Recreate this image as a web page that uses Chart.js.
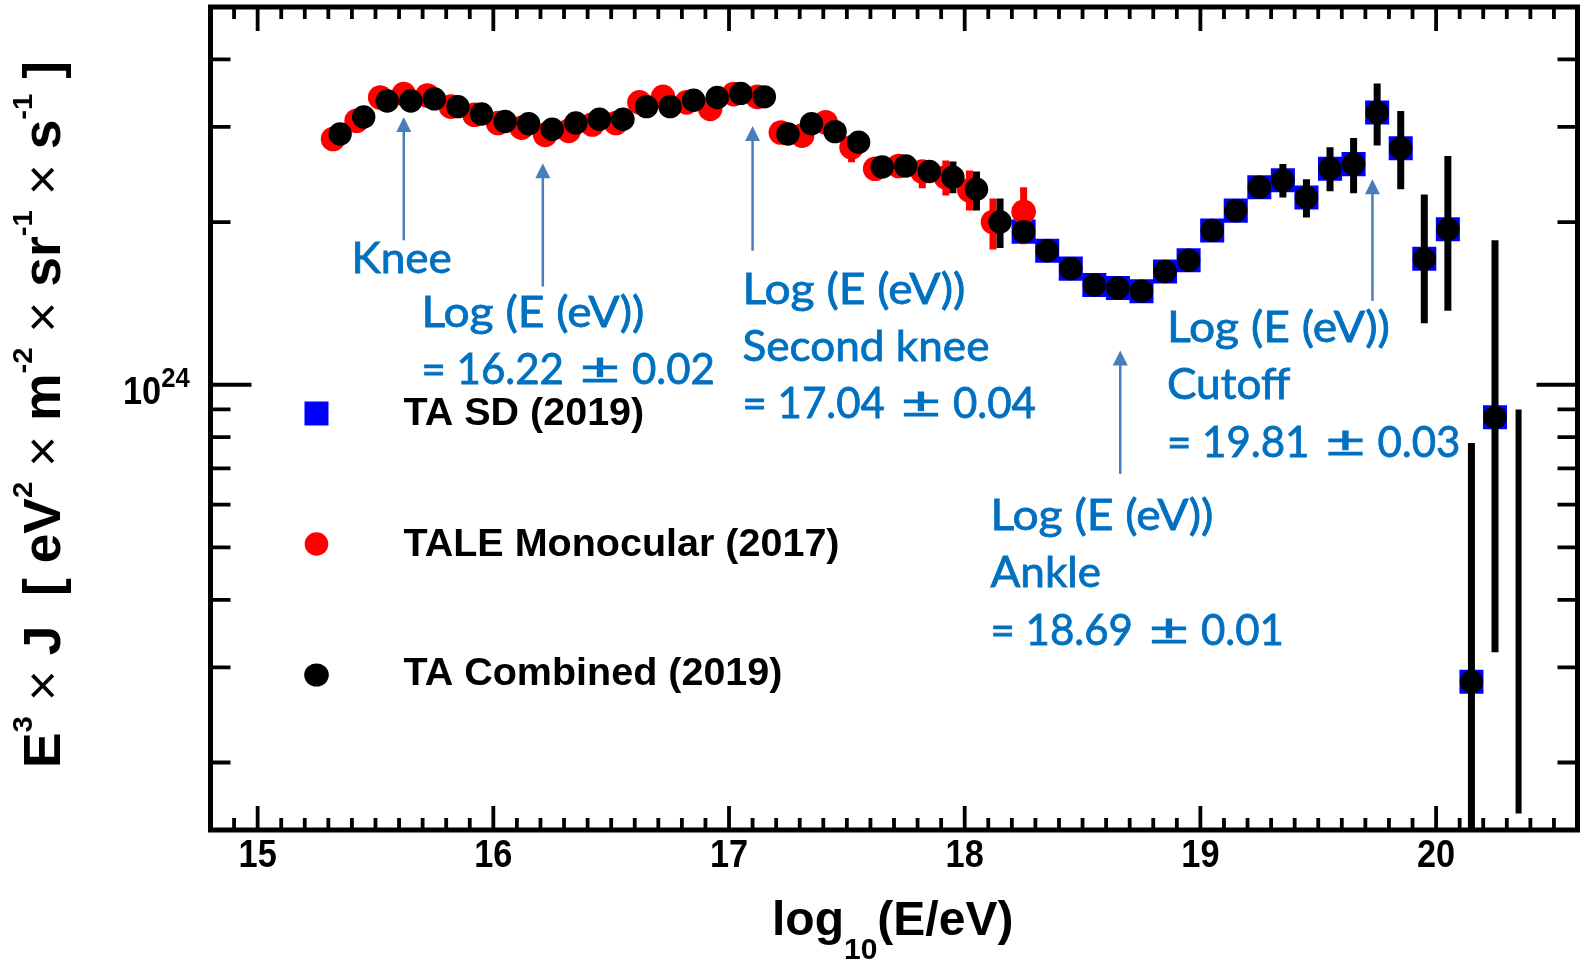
<!DOCTYPE html>
<html>
<head>
<meta charset="utf-8">
<title>TA cosmic-ray energy spectrum</title>
<script src="https://cdn.jsdelivr.net/npm/chart.js@4.4.1/dist/chart.umd.min.js"></script>
<style>
  html, body { margin: 0; padding: 0; background: #fff; }
  canvas { display: block; }
</style>
</head>
<body>
<canvas id="spectrum" width="1581" height="960"></canvas>
<script>
// ── Data: E^3 x J [eV^2 m^-2 sr^-1 s^-1] against log10(E/eV) ──────────
const comboX = [15.35, 15.45, 15.55, 15.65, 15.75, 15.85, 15.95, 16.05, 16.15, 16.25,
                16.35, 16.45, 16.55, 16.65, 16.75, 16.85, 16.95, 17.05, 17.15, 17.25,
                17.35, 17.45, 17.55, 17.65, 17.75, 17.85, 17.95, 18.05, 18.15, 18.25,
                18.35, 18.45, 18.55, 18.65, 18.75, 18.85, 18.95, 19.05, 19.15, 19.25,
                19.35, 19.45, 19.55, 19.65, 19.75, 19.85, 19.95, 20.05, 20.15, 20.25];
const comboY = [2.91e24, 3.13e24, 3.35e24, 3.35e24, 3.38e24, 3.27e24, 3.17e24, 3.07e24, 3.04e24, 2.97e24,
                3.05e24, 3.10e24, 3.10e24, 3.27e24, 3.27e24, 3.36e24, 3.40e24, 3.46e24, 3.41e24, 2.91e24,
                3.04e24, 2.94e24, 2.81e24, 2.53e24, 2.54e24, 2.48e24, 2.42e24, 2.30e24, 2.00e24, 1.92e24,
                1.77e24, 1.64e24, 1.53e24, 1.51e24, 1.49e24, 1.62e24, 1.70e24, 1.93e24, 2.10e24, 2.32e24,
                2.39e24, 2.22e24, 2.51e24, 2.56e24, 3.19e24, 2.74e24, 1.71e24, 1.94e24, 2.82e23, 8.71e23];
const comboErrX  = [17.95, 18.05, 18.15, 19.35, 19.45, 19.55, 19.65, 19.75, 19.85, 19.95, 20.05, 20.15, 20.25];
const comboErrLo = [2.26e24, 2.10e24, 1.79e24, 2.22e24, 2.04e24, 2.28e24, 2.26e24, 2.77e24, 2.30e24, 1.30e24, 1.37e24, 1.0e23, 3.20e23];
const comboErrHi = [2.59e24, 2.48e24, 2.21e24, 2.56e24, 2.40e24, 2.75e24, 2.86e24, 3.61e24, 3.21e24, 2.25e24, 2.65e24, 7.80e23, 1.85e24];

// last bin: bar only, no marker
const limitX  = [20.35];
const limitLo = [1.61e23];
const limitHi = [9.0e23];

const taleX = [15.32, 15.42, 15.52, 15.62, 15.72, 15.82, 15.92, 16.02, 16.12, 16.22,
               16.32, 16.42, 16.52, 16.62, 16.72, 16.82, 16.92, 17.02, 17.12, 17.22,
               17.31, 17.41, 17.52, 17.62, 17.72, 17.82, 17.92, 18.02, 18.12, 18.25];
const taleY = [2.85e24, 3.08e24, 3.40e24, 3.45e24, 3.43e24, 3.27e24, 3.16e24, 3.05e24, 2.99e24, 2.90e24,
               2.95e24, 3.03e24, 3.05e24, 3.33e24, 3.41e24, 3.33e24, 3.24e24, 3.45e24, 3.41e24, 2.93e24,
               2.89e24, 3.06e24, 2.75e24, 2.51e24, 2.54e24, 2.48e24, 2.42e24, 2.29e24, 2.00e24, 2.09e24];
const taleErrX  = [17.52, 17.82, 17.92, 18.02, 18.12, 18.25];
const taleErrLo = [2.58e24, 2.31e24, 2.24e24, 2.10e24, 1.78e24, 1.82e24];
const taleErrHi = [2.85e24, 2.60e24, 2.60e24, 2.49e24, 2.21e24, 2.32e24];

const sdX = [18.25, 18.35, 18.45, 18.55, 18.65, 18.75, 18.85, 18.95, 19.05, 19.15, 19.25,
             19.35, 19.45, 19.55, 19.65, 19.75, 19.85, 19.95, 20.05, 20.15, 20.25];
const sdY = [1.92e24, 1.77e24, 1.64e24, 1.53e24, 1.51e24, 1.49e24, 1.62e24, 1.70e24, 1.93e24, 2.10e24, 2.32e24,
             2.39e24, 2.22e24, 2.51e24, 2.56e24, 3.19e24, 2.74e24, 1.71e24, 1.94e24, 2.82e23, 8.71e23];

// feature arrows (x in log10 E, tip / tail in E^3 J)
const arrowX    = [15.62, 16.21, 17.10, 18.66, 19.73];
const arrowTip  = [3.13e24, 2.57e24, 3.01e24, 1.157e24, 2.40e24];
const arrowTail = [1.85e24, 1.52e24, 1.77e24, 6.84e23, 1.43e24];

const xTicks      = [15, 16, 17, 18, 19, 20];
const yMinorTicks = [2e23, 3e23, 4e23, 5e23, 6e23, 7e23, 8e23, 9e23, 2e24, 3e24, 4e24];

const pts = (xs, ys) => xs.map((v, i) => ({ x: v, y: ys[i] }));

// error bars drawn right before the dataset they belong to (by dataset index)
const barSets = {
    0: [{ x: comboErrX, lo: comboErrLo, hi: comboErrHi, color: '#000', width: 7 },
        { x: limitX,    lo: limitLo,    hi: limitHi,    color: '#000', width: 6 }],
    1: [{ x: taleErrX,  lo: taleErrLo,  hi: taleErrHi,  color: '#ff0000', width: 7 }],
};

const BLUE_TEXT = '#0070c0';
const ARROW     = '#4a7ebb';
const NOTE_FONT = '42px Lato';
const LBL_FONT  = 'bold 39px "Liberation Sans", Arial, sans-serif';

// ── Helpers ───────────────────────────────────────────────────────────
function txt(ctx, str, x, y, font, sx, align) {
    ctx.save();
    ctx.font = font;
    ctx.textAlign = align || 'left';
    ctx.textBaseline = 'alphabetic';
    ctx.translate(x, y);
    ctx.scale(sx || 1, 1);
    ctx.fillText(str, 0, 0);
    ctx.restore();
}

// one line of a feature note; numbers keep their width, words are widened a bit
function noteLine(ctx, str, x, y) {
    ctx.save();
    ctx.font = NOTE_FONT;
    ctx.lineWidth = 0.8;
    ctx.strokeStyle = BLUE_TEXT;
    const put = (s, px, py) => { ctx.fillText(s, px, py); ctx.strokeText(s, px, py); };
    ctx.translate(x, y);
    const parts = str.split('\u00b1');
    if (parts.length === 1) {
        ctx.scale(str.startsWith('Log') ? 1.10 : 1.05, 1);
        put(str, 0, 0);
        ctx.restore();
        return;
    }
    const head = parts[0].trimEnd();
    put(head, 0, 0);
    const px = ctx.measureText(head).width + 16;
    const pw = ctx.measureText('\u00b1').width;
    ctx.save();
    ctx.translate(px, 0);
    ctx.scale(40 / pw, 1);
    put('\u00b1', 0, 0);
    ctx.restore();
    put(parts[1].trimStart(), px + 40 + 12, 0);
    ctx.restore();
}

// ── Plugins ───────────────────────────────────────────────────────────
const errorBars = {
    id: 'errorBars',
    beforeDatasetDraw(chart, args) {
        const sets = barSets[args.index];
        if (!sets) return;
        const { ctx, chartArea: a, scales: { x, y } } = chart;
        ctx.save();
        ctx.beginPath();
        ctx.rect(a.left, a.top, a.right - a.left, a.bottom - a.top);
        ctx.clip();
        sets.forEach(s => {
            ctx.strokeStyle = s.color;
            ctx.lineWidth = s.width;
            s.x.forEach((v, i) => {
                const px = x.getPixelForValue(v);
                ctx.beginPath();
                ctx.moveTo(px, y.getPixelForValue(s.lo[i]));
                ctx.lineTo(px, y.getPixelForValue(s.hi[i]));
                ctx.stroke();
            });
        });
        ctx.restore();
    }
};

const frameAxes = {
    id: 'frameAxes',
    afterDraw(chart) {
        const { ctx, chartArea: a, scales: { x, y } } = chart;
        ctx.save();
        ctx.strokeStyle = '#000';
        ctx.fillStyle = '#000';

        // ticks, all pointing inwards
        ctx.lineWidth = 3.8;
        for (let k = 149; k <= 205; k++) {
            const px = x.getPixelForValue(k / 10);
            const len = k % 10 === 0 ? 24 : 12;
            ctx.beginPath();
            ctx.moveTo(px, a.bottom); ctx.lineTo(px, a.bottom - len);
            ctx.moveTo(px, a.top);    ctx.lineTo(px, a.top + len);
            ctx.stroke();
        }
        const yt = yMinorTicks.map(v => [v, 20]).concat([[1e24, 41]]);
        yt.forEach(([v, len]) => {
            const py = y.getPixelForValue(v);
            ctx.beginPath();
            ctx.moveTo(a.left, py);  ctx.lineTo(a.left + len, py);
            ctx.moveTo(a.right, py); ctx.lineTo(a.right - len, py);
            ctx.stroke();
        });

        ctx.lineWidth = 5;
        ctx.strokeRect(a.left, a.top, a.right - a.left, a.bottom - a.top);

        // x tick labels
        xTicks.forEach(v => txt(ctx, String(v), x.getPixelForValue(v), a.bottom + 37, LBL_FONT, 0.88, 'center'));

        // y tick label 10^24
        const p24 = y.getPixelForValue(1e24);
        ctx.font = LBL_FONT;
        const w10 = ctx.measureText('10').width * 0.88;
        txt(ctx, '10', 123, p24 + 19, LBL_FONT, 0.88);
        txt(ctx, '24', 123 + w10, p24 + 2, 'bold 27px "Liberation Sans", Arial, sans-serif', 0.95);

        // x axis title: log10(E/eV)
        const tf = 'bold 48px "Liberation Sans", Arial, sans-serif';
        const sf = 'bold 30px "Liberation Sans", Arial, sans-serif';
        let tx = 772;
        ctx.font = tf; txt(ctx, 'log', tx, 935, tf); tx += ctx.measureText('log').width;
        ctx.font = sf; txt(ctx, '10', tx, 959, sf); tx += ctx.measureText('10').width;
        txt(ctx, '(E/eV)', tx, 935, tf);

        // y axis title, rotated; 0 = main, 1 = superscript, 2 = thin multiply sign
        const fonts = ['bold 51px "Liberation Sans", Arial, sans-serif',
                       'bold 28px "Liberation Sans", Arial, sans-serif',
                       '51px "Liberation Sans", Arial, sans-serif'];
        const segs = [['E', 0], ['3', 1], [' ', 0], ['\u00d7', 2], [' J  [ eV', 0], ['2', 1],
                      [' ', 0], ['\u00d7', 2], [' m', 0], ['-2', 1],
                      [' ', 0], ['\u00d7', 2], [' sr', 0], ['-1', 1],
                      [' ', 0], ['\u00d7', 2], [' s', 0], ['-1', 1], [' ]', 0]];
        let total = 0;
        segs.forEach(([s, f]) => { ctx.font = fonts[f]; total += ctx.measureText(s).width; });
        ctx.save();
        ctx.translate(60, 768);
        ctx.rotate(-Math.PI / 2);
        ctx.scale(707 / total, 1);
        let cx = 0;
        segs.forEach(([s, f]) => {
            ctx.font = fonts[f];
            ctx.fillText(s, cx, f === 1 ? -28 : 0);
            cx += ctx.measureText(s).width;
        });
        ctx.restore();

        ctx.restore();
    }
};

const notes = {
    id: 'notes',
    afterDraw(chart) {
        const { ctx, scales: { x, y } } = chart;
        ctx.save();

        // arrows
        ctx.strokeStyle = ARROW;
        ctx.fillStyle = ARROW;
        ctx.lineWidth = 2.5;
        arrowX.forEach((v, i) => {
            const px = x.getPixelForValue(v);
            const tip = y.getPixelForValue(arrowTip[i]);
            const tail = y.getPixelForValue(arrowTail[i]);
            ctx.beginPath();
            ctx.moveTo(px, tail); ctx.lineTo(px, tip + 12);
            ctx.stroke();
            ctx.beginPath();
            ctx.moveTo(px, tip); ctx.lineTo(px - 7.5, tip + 15); ctx.lineTo(px + 7.5, tip + 15);
            ctx.closePath();
            ctx.fill();
        });

        // feature labels
        ctx.fillStyle = BLUE_TEXT;
        ctx.textBaseline = 'alphabetic';
        ctx.textAlign = 'left';
        const blocks = [
            { x: 351.5, y: 272.7, lines: ['Knee'] },
            { x: 421.5, y: 326.7, lines: ['Log (E (eV))', '= 16.22 \u00b1 0.02'] },
            { x: 742.5, y: 303.5, lines: ['Log (E (eV))', 'Second knee', '= 17.04 \u00b1 0.04'] },
            { x: 990.5, y: 530,   lines: ['Log (E (eV))', 'Ankle', '= 18.69 \u00b1 0.01'] },
            { x: 1167,  y: 341.7, lines: ['Log (E (eV))', 'Cutoff', '= 19.81 \u00b1 0.03'] },
        ];
        blocks.forEach(b => b.lines.forEach((l, j) => noteLine(ctx, l, b.x, b.y + j * 57.4)));

        // legend
        ctx.fillStyle = '#0000ff';
        ctx.fillRect(304.5, 401.5, 24, 24);
        ctx.fillStyle = '#ff0000';
        ctx.beginPath(); ctx.arc(316.5, 544, 11.8, 0, Math.PI * 2); ctx.fill();
        ctx.fillStyle = '#000';
        ctx.beginPath(); ctx.ellipse(316.5, 675, 12.3, 11.6, 0, 0, Math.PI * 2); ctx.fill();
        const lf = 'bold 39.5px "Liberation Sans", Arial, sans-serif';
        txt(ctx, 'TA SD (2019)', 403.5, 425, lf);
        txt(ctx, 'TALE Monocular (2017)', 403.5, 556, lf);
        txt(ctx, 'TA Combined (2019)', 403.5, 685, lf);

        ctx.restore();
    }
};

// ── Chart ─────────────────────────────────────────────────────────────
new Chart(document.getElementById('spectrum'), {
    type: 'scatter',
    data: {
        datasets: [
            { label: 'TA Combined (2019)', data: pts(comboX, comboY),
              pointRadius: 11.7, pointBorderWidth: 0, backgroundColor: '#000' },
            { label: 'TALE Monocular (2017)', data: pts(taleX, taleY),
              pointRadius: 12.3, pointBorderWidth: 0, backgroundColor: '#ff0000' },
            { label: 'TA SD (2019)', data: pts(sdX, sdY), pointStyle: 'rect',
              pointRadius: 17, pointBorderWidth: 0, backgroundColor: '#0000ff' },
        ]
    },
    options: {
        responsive: false,
        animation: false,
        events: [],
        layout: { autoPadding: false, padding: { left: 210.5, right: 3.5, top: 7, bottom: 130 } },
        plugins: { legend: { display: false }, tooltip: { enabled: false } },
        scales: {
            x: { type: 'linear', min: 14.8, max: 20.6, display: false },
            y: { type: 'logarithmic', min: 1.5e23, max: 5e24, display: false }
        }
    },
    plugins: [errorBars, frameAxes, notes]
});
</script>
</body>
</html>
